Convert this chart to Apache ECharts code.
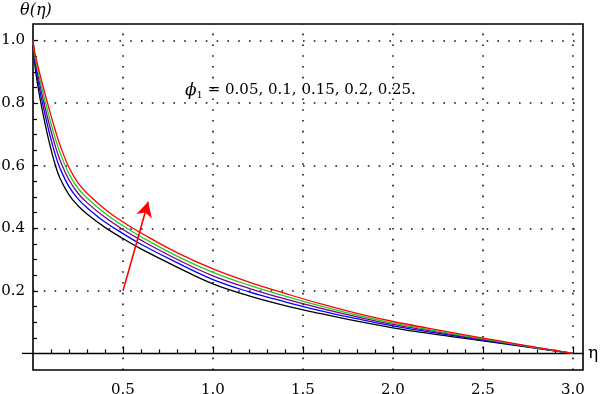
<!DOCTYPE html>
<html><head><meta charset="utf-8">
<script src="https://cdn.jsdelivr.net/npm/echarts@6/dist/echarts.min.js"></script>
<style>html,body{margin:0;padding:0;background:#fff}#c{width:600px;height:394px}</style>
</head><body><div id="c"></div>
<script>
// eta positions
const etaValues = [0, 0.005, 0.01, 0.02, 0.035, 0.05, 0.075, 0.1, 0.125, 0.15, 0.2, 0.25, 0.3, 0.4, 0.5, 0.6, 0.8, 1.0, 1.2, 1.4, 1.6, 1.8, 2.0, 2.2, 2.4, 2.6, 2.8, 3.0];
// theta(eta) for phi1 = 0.05 (black), 0.1 (blue), 0.15 (purple), 0.2 (green), 0.25 (red)
const thetaPhi005 = [1, 0.955, 0.925, 0.88, 0.828, 0.782, 0.713, 0.652, 0.600, 0.560, 0.507, 0.472, 0.446, 0.403, 0.367, 0.334, 0.276, 0.222, 0.184, 0.153, 0.127, 0.103, 0.082, 0.064, 0.048, 0.032, 0.016, 0];
const thetaPhi010 = [1, 0.962, 0.936, 0.897, 0.850, 0.807, 0.743, 0.684, 0.633, 0.592, 0.533, 0.494, 0.466, 0.420, 0.383, 0.349, 0.290, 0.236, 0.197, 0.165, 0.136, 0.111, 0.088, 0.069, 0.051, 0.034, 0.017, 0];
const thetaPhi015 = [1, 0.968, 0.945, 0.911, 0.868, 0.828, 0.767, 0.711, 0.661, 0.618, 0.555, 0.512, 0.482, 0.435, 0.396, 0.362, 0.301, 0.248, 0.208, 0.174, 0.144, 0.117, 0.093, 0.073, 0.054, 0.036, 0.018, 0];
const thetaPhi020 = [1, 0.973, 0.953, 0.923, 0.883, 0.847, 0.789, 0.735, 0.685, 0.642, 0.574, 0.528, 0.497, 0.448, 0.408, 0.373, 0.311, 0.259, 0.218, 0.183, 0.151, 0.122, 0.097, 0.076, 0.056, 0.037, 0.018, 0];
const thetaPhi025 = [1, 0.978, 0.962, 0.936, 0.900, 0.866, 0.812, 0.760, 0.711, 0.666, 0.594, 0.545, 0.512, 0.461, 0.420, 0.385, 0.322, 0.270, 0.228, 0.192, 0.158, 0.128, 0.102, 0.080, 0.059, 0.039, 0.019, 0];
const seriesNames = ['φ1 = 0.05', 'φ1 = 0.1', 'φ1 = 0.15', 'φ1 = 0.2', 'φ1 = 0.25'];
// ticks
const xTicks = [0.5, 1.0, 1.5, 2.0, 2.5, 3.0];
const xMinorTicks = [0.1,0.2,0.3,0.4,0.6,0.7,0.8,0.9,1.1,1.2,1.3,1.4,1.6,1.7,1.8,1.9,2.1,2.2,2.3,2.4,2.6,2.7,2.8,2.9];
const yTicks = [0.2, 0.4, 0.6, 0.8, 1.0];
const yMinorTicks = [0.05,0.1,0.15,0.25,0.3,0.35,0.45,0.5,0.55,0.65,0.7,0.75,0.85,0.9,0.95];
// arrow annotation (data coords)
const arrowFrom = [0.5, 0.2];
const arrowTo = [0.64, 0.485];
const annotationText = ' = 0.05, 0.1, 0.15, 0.2, 0.25.';

const FONT = 'DejaVu Serif';
const xMin = 0, xMax = 3.056, yMin = -0.053, yMax = 1.053;
const colors = ['#000000', '#0000ff', '#800080', '#22cc22', '#ff0000'];
const thetas = [thetaPhi005, thetaPhi010, thetaPhi015, thetaPhi020, thetaPhi025];

const chart = echarts.init(document.getElementById('c'), null, {renderer: 'canvas'});
const dotted = {type: [1.6, 9.2], width: 1.6, color: '#111'};

const curveSeries = thetas.map((arr, k) => ({
  name: seriesNames[k], type: 'line', xAxisIndex: 0, yAxisIndex: 0,
  data: etaValues.map((x, i) => [x, arr[i]]),
  showSymbol: false, smooth: 0.4, sampling: null,
  lineStyle: {color: colors[k], width: 1.3, type: 'solid'}, itemStyle: {color: colors[k]},
  z: 3, silent: true
}));

const option = {
  animation: false,
  backgroundColor: '#fff',
  grid: {left: 33, right: 17, top: 24, bottom: 24, containLabel: false, outerBoundsMode: 'none',
         show: true, borderColor: '#000', borderWidth: 1.6, backgroundColor: 'transparent'},
  xAxis: [
    {type: 'value', min: xMin, max: xMax, position: 'bottom',
     axisLine: {show: false, onZero: false}, axisTick: {show: false}, splitLine: {show: false},
     axisLabel: {customValues: xTicks, formatter: v => v.toFixed(1), color: '#000', fontFamily: FONT, fontSize: 15, margin: 13}},
    {type: 'value', min: xMin, max: xMax, position: 'bottom',
     axisLine: {show: true, onZero: true, onZeroAxisIndex: 0, lineStyle: {color: '#000', width: 1.3}},
     axisTick: {show: true, inside: true, length: 7, customValues: xTicks, lineStyle: {color: '#000', width: 1.2}},
     axisLabel: {show: false}, splitLine: {show: false},
     name: 'η', nameLocation: 'end', nameGap: 5, nameTextStyle: {color: '#000', fontFamily: FONT, fontSize: 17}},
    {type: 'value', min: xMin, max: xMax, position: 'bottom',
     axisLine: {show: false, onZero: true, onZeroAxisIndex: 0},
     axisTick: {show: true, inside: true, length: 4, customValues: xMinorTicks, lineStyle: {color: '#000', width: 1.2}},
     axisLabel: {show: false}, splitLine: {show: false}}
  ],
  yAxis: [
    {type: 'value', min: yMin, max: yMax, position: 'left',
     axisLine: {show: false, onZero: false},
     axisTick: {show: true, inside: true, length: 5, customValues: yTicks, lineStyle: {color: '#000', width: 1.2}},
     axisLabel: {customValues: yTicks, formatter: v => v.toFixed(1), color: '#000', fontFamily: FONT, fontSize: 15, margin: 8},
     splitLine: {show: false}},
    {type: 'value', min: yMin, max: yMax, position: 'left',
     axisLine: {show: false, onZero: false},
     axisTick: {show: true, inside: true, length: 4, customValues: yMinorTicks, lineStyle: {color: '#000', width: 1.2}},
     axisLabel: {show: false}, splitLine: {show: false}}
  ],
  series: [
    {type: 'line', data: [], xAxisIndex: 0, yAxisIndex: 0, silent: true,
     markLine: {silent: true, symbol: ['none', 'none'], z: 1, label: {show: false}, lineStyle: dotted,
       emphasis: {disabled: true},
       data: xTicks.map(v => ({xAxis: v})).concat(yTicks.map(v => ({yAxis: v})))}},
    ...curveSeries,
    {type: 'line', data: [], xAxisIndex: 0, yAxisIndex: 0, silent: true,
     markLine: {silent: true, z: 6, symbol: ['none', 'arrow'], symbolSize: [12, 15], label: {show: false},
       lineStyle: {type: 'solid', color: '#ff0000', width: 1.6}, itemStyle: {color: '#ff0000'},
       emphasis: {disabled: true},
       data: [[{coord: arrowFrom}, {coord: arrowTo}]]}}
  ],
  graphic: [
    {type: 'text', left: 20, top: 3, style: {text: 'θ(η)', font: 'italic 16px "DejaVu Serif"', fill: '#000'}},
    {type: 'text', left: 185, top: 82, style: {
      text: '{p|ϕ}{s|1}{t|' + annotationText + '}', fill: '#000',
      rich: {
        p: {fontFamily: FONT, fontStyle: 'italic', fontSize: 17, lineHeight: 20},
        s: {fontFamily: FONT, fontSize: 10, lineHeight: 8, verticalAlign: 'bottom'},
        t: {fontFamily: FONT, fontSize: 15, lineHeight: 20}
      }}}
  ]
};
chart.setOption(option);
// extend the zero axis line slightly left of the frame, as in the original
const y0 = chart.convertToPixel({yAxisIndex: 0}, 0);
const xLeft = chart.convertToPixel({xAxisIndex: 0}, xMin);
chart.setOption({graphic: option.graphic.concat([
  {type: 'line', shape: {x1: xLeft - 11, y1: y0, x2: xLeft, y2: y0}, style: {stroke: '#000', lineWidth: 1.3}}
])});
</script></body></html>
